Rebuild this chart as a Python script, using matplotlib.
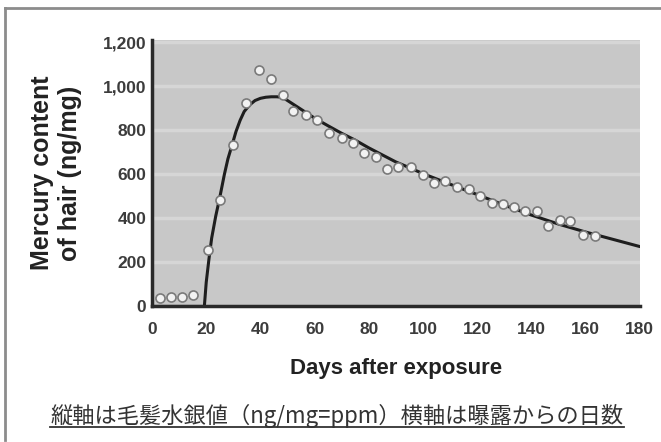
import matplotlib
matplotlib.use("Agg")
import matplotlib.pyplot as plt
from matplotlib.lines import Line2D

# measured hair mercury values (ng/mg) by day after exposure
days = [3, 7, 11, 15, 20.5, 25, 29.7, 34.7, 39.6, 43.9, 48.3, 52.2, 56.7, 60.9,
        65.2, 70.1, 74.2, 78.3, 82.5, 86.8, 90.9, 95.6, 99.9, 104, 108.1, 112.5,
        116.8, 121.1, 125.4, 129.4, 133.5, 137.8, 142.1, 146.2, 150.5, 154.4,
        159, 163.5]
mercury = [40, 45, 45, 50, 257, 484, 733, 922, 1073, 1031, 960, 887, 869, 847,
           789, 767, 744, 696, 680, 623, 631, 631, 597, 562, 570, 544,
           532, 503, 469, 464, 453, 434, 434, 366, 393, 386,
           325, 318]

# fitted curve
curve_days = [0, 19.3, 20, 21, 22, 23.5, 25, 26.7, 28, 29.7, 31, 32.5, 34, 36,
              38, 40, 42, 44, 46, 48, 50, 55, 60, 65, 70, 75, 80, 85, 90, 95,
              100, 110, 120, 130, 140, 150, 160, 170, 180]
curve_vals = [0, 0, 110, 215, 310, 410, 495, 600, 670, 740, 795, 845, 885, 915,
              935, 945, 950, 952, 952, 950, 935, 895, 855, 820, 786, 755, 720,
              688, 656, 630, 603, 555, 508, 460, 415, 374, 338, 305, 272]

xticks = [0, 20, 40, 60, 80, 100, 120, 140, 160, 180]
yticks = [0, 200, 400, 600, 800, 1000, 1200]
ytick_labels = ["0", "200", "400", "600", "800", "1,000", "1,200"]

caption = "縦軸は毛髪水銀値（ng/mg=ppm）横軸は曝露からの日数"

bold_font = "Liberation Sans"

fig = plt.figure(figsize=(6.61, 4.42), dpi=100)
ax = fig.add_axes([0.230, 0.3066, 0.738, 0.603])

ax.set_facecolor("#c8c8c8")
for y in yticks[1:]:
    ax.axhline(y, color="#d6d6d6", lw=2.5, zorder=0)

ax.plot(curve_days, curve_vals, color="#1e1e1e", lw=2.2, zorder=2,
        solid_capstyle="round")
ax.plot(days, mercury, "o", ms=6.5, mfc="#f2f2f2", mec="#7a7a7a", mew=1.2,
        zorder=3)

ax.set_xlim(0, 180)
ax.set_ylim(0, 1210)
ax.set_xticks(xticks)
ax.set_yticks(yticks)
ax.set_xticklabels([str(v) for v in xticks])
ax.set_yticklabels(ytick_labels)
ax.tick_params(length=0, labelcolor="#3c3c3c")
ax.tick_params(axis="x", pad=11)
ax.tick_params(axis="y", pad=4)
for lab in ax.get_xticklabels() + ax.get_yticklabels():
    lab.set_fontfamily(bold_font)
    lab.set_fontweight("bold")
    lab.set_fontsize(12.5)

for s in ["top", "right"]:
    ax.spines[s].set_visible(False)
for s in ["left", "bottom"]:
    ax.spines[s].set_color("#2a2a2a")
    ax.spines[s].set_linewidth(2.5)

ax.set_ylabel("Mercury content\nof hair (ng/mg)", fontfamily=bold_font,
              fontweight="bold", fontsize=18, color="#222222",
              linespacing=1.2, labelpad=15)
ax.set_xlabel("Days after exposure", fontfamily=bold_font, fontweight="bold",
              fontsize=16, color="#222222", labelpad=15)

# caption with underline
cap = fig.text(337 / 661, 1 - 423 / 442, caption, ha="center", va="baseline",
               fontfamily=["Noto Sans CJK JP", "DejaVu Sans"], fontsize=16,
               color="#333333")
fig.canvas.draw()
bb = cap.get_window_extent().transformed(fig.transFigure.inverted())
uy = 1 - 426.5 / 442
fig.add_artist(Line2D([bb.x0, bb.x1], [uy, uy], color="#333333", lw=1.3,
                      transform=fig.transFigure))

# outer frame (top and left edges)
fig.add_artist(Line2D([0.008, 1.0], [0.981, 0.981], color="#8c8c8c", lw=2,
                      transform=fig.transFigure))
fig.add_artist(Line2D([0.008, 0.008], [0.981, 0.005], color="#8c8c8c", lw=2,
                      transform=fig.transFigure))

fig.savefig("out.png", dpi=100)
